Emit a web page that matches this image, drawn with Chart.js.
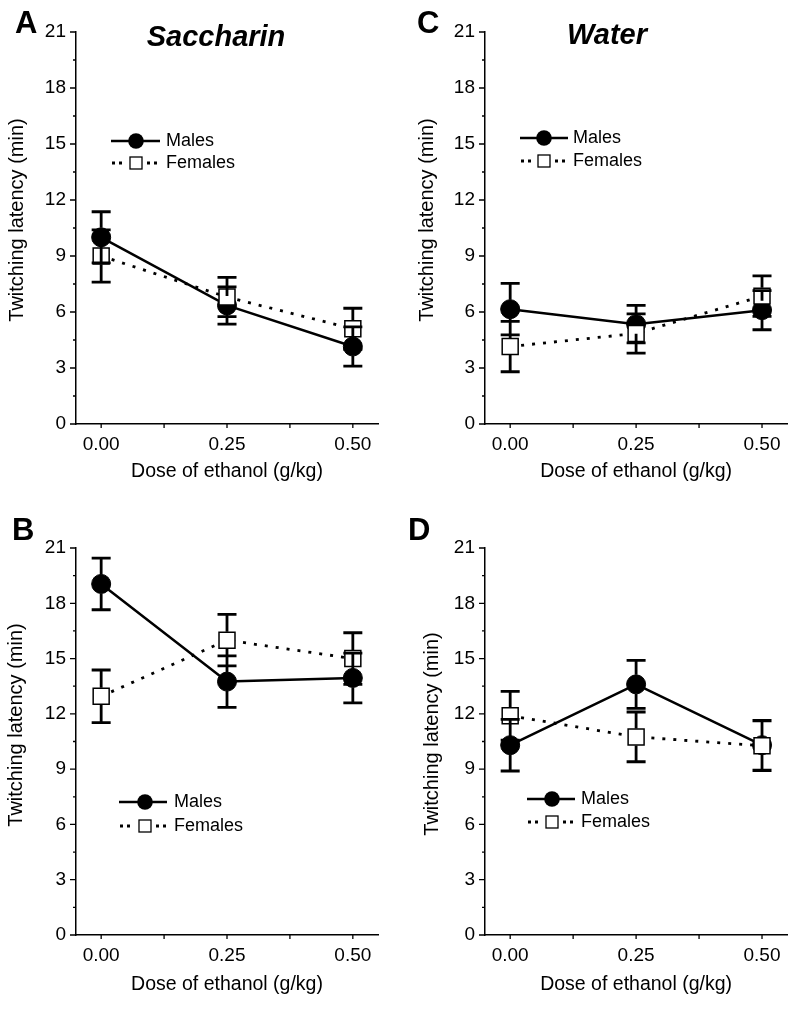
<!DOCTYPE html>
<html lang="en">
<head>
<meta charset="UTF-8" />
<title>Twitching latency by dose of ethanol</title>
<script src="https://cdn.jsdelivr.net/npm/chart.js"></script>
<style>
  body { margin: 0; background: #fff; }
  #wrap { position: relative; width: 800px; height: 1009px; }
  canvas { position: absolute; }
</style>
</head>
<body>
<div id="wrap">
  <canvas id="panelA" width="400" height="495" style="left:0;top:0;width:400px;height:495px"></canvas>
  <canvas id="panelC" width="400" height="495" style="left:400px;top:0;width:400px;height:495px"></canvas>
  <canvas id="panelB" width="400" height="514" style="left:0;top:495px;width:400px;height:514px"></canvas>
  <canvas id="panelD" width="400" height="514" style="left:400px;top:495px;width:400px;height:514px"></canvas>
</div>
<script>
// doses (g/kg) and axis ticks
const doses = [0, 0.25, 0.5];
const xTicks = [0, 0.125, 0.25, 0.375, 0.5];
const yTicks = [0, 1.5, 3, 4.5, 6, 7.5, 9, 10.5, 12, 13.5, 15, 16.5, 18, 19.5, 21];

// A: saccharin, top
const saccTopMales = [10.0, 6.35, 4.15];
const saccTopMalesErr = [1.37, 1.0, 1.05];
const saccTopFemales = [9.0, 6.8, 5.1];
const saccTopFemalesErr = [1.4, 1.05, 1.1];

// C: water, top
const waterTopMales = [6.15, 5.35, 6.1];
const waterTopMalesErr = [1.38, 1.0, 1.05];
const waterTopFemales = [4.15, 4.85, 6.85];
const waterTopFemalesErr = [1.35, 1.05, 1.08];

// B: saccharin, bottom
const saccBotMales = [19.05, 13.75, 13.95];
const saccBotMalesErr = [1.4, 1.4, 1.35];
const saccBotFemales = [12.95, 16.0, 15.0];
const saccBotFemalesErr = [1.43, 1.4, 1.4];

// D: water, bottom
const waterBotMales = [10.3, 13.6, 10.3];
const waterBotMalesErr = [1.4, 1.3, 1.35];
const waterBotFemales = [11.9, 10.75, 10.27];
const waterBotFemalesErr = [1.32, 1.35, 1.35];

const family = "'Liberation Sans', Arial, Helvetica, sans-serif";
Chart.defaults.font.family = family;
Chart.defaults.color = '#000';

// error bars on top of all markers, but stopping at their own marker's edge
const errorBars = {
  id: 'errorBars',
  afterDatasetsDraw(chart) {
    const y = chart.scales.y;
    const ctx = chart.ctx;
    ctx.save();
    ctx.strokeStyle = '#000';
    ctx.lineWidth = 2.8;
    ctx.beginPath();
    chart.data.datasets.forEach((ds, di) => {
      const meta = chart.getDatasetMeta(di);
      const half = ds.symbolHalf;
      meta.data.forEach((pt, i) => {
        const v = ds.data[i].y, e = ds.errors[i];
        const top = y.getPixelForValue(v + e);
        const bot = y.getPixelForValue(v - e);
        if (pt.y - half > top) { ctx.moveTo(pt.x, top); ctx.lineTo(pt.x, pt.y - half); }
        if (pt.y + half < bot) { ctx.moveTo(pt.x, pt.y + half); ctx.lineTo(pt.x, bot); }
        ctx.moveTo(pt.x - 9.5, top); ctx.lineTo(pt.x + 9.5, top);
        ctx.moveTo(pt.x - 9.5, bot); ctx.lineTo(pt.x + 9.5, bot);
      });
    });
    ctx.stroke();
    ctx.restore();
  }
};

// outward tick marks, major and minor
const axisTicks = {
  id: 'axisTicks',
  afterDraw(chart) {
    const { ctx, chartArea, scales: { x, y } } = chart;
    ctx.save();
    ctx.strokeStyle = '#000';
    ctx.lineWidth = 1.3;
    ctx.beginPath();
    yTicks.forEach(v => {
      const py = y.getPixelForValue(v);
      const len = v % 3 === 0 ? 6 : 3;
      ctx.moveTo(chartArea.left, py); ctx.lineTo(chartArea.left - len, py);
    });
    xTicks.forEach(v => {
      const px = x.getPixelForValue(v);
      ctx.moveTo(px, chartArea.bottom); ctx.lineTo(px, chartArea.bottom + 4);
    });
    ctx.stroke();
    ctx.restore();
  }
};

// in-plot legend, panel letter, title and y axis title
const panelDecor = {
  id: 'panelDecor',
  afterDraw(chart, args, o) {
    const ctx = chart.ctx;
    ctx.save();
    ctx.fillStyle = '#000';
    ctx.textBaseline = 'alphabetic';
    ctx.font = 'bold 31px ' + family;
    ctx.textAlign = 'left';
    ctx.fillText(o.letter, o.letterX, o.letterY);
    if (o.title) {
      ctx.font = 'italic bold 29px ' + family;
      ctx.textAlign = 'center';
      ctx.fillText(o.title, o.titleX, o.titleY);
    }
    // y axis title
    ctx.save();
    ctx.translate(o.yTitleX, o.yTitleY);
    ctx.rotate(-Math.PI / 2);
    ctx.font = '20px ' + family;
    ctx.textAlign = 'center';
    ctx.textBaseline = 'middle';
    ctx.fillText('Twitching latency (min)', 0, 0);
    ctx.restore();
    // legend: males
    const L = o.legend;
    ctx.strokeStyle = '#000';
    ctx.lineWidth = 2.5;
    ctx.beginPath();
    ctx.moveTo(L.x0, L.y1); ctx.lineTo(L.x1, L.y1);
    ctx.stroke();
    ctx.beginPath();
    ctx.arc(L.cx, L.y1, 7.8, 0, Math.PI * 2);
    ctx.fill();
    // legend: females
    [L.x0 + 1, L.x0 + 8, L.cx + 11, L.cx + 18].forEach(dx => {
      ctx.fillRect(dx, L.y2 - 1.5, 3, 3);
    });
    ctx.lineWidth = 1.3;
    ctx.fillStyle = '#fff';
    ctx.fillRect(L.cx - 6, L.y2 - 6, 12, 12);
    ctx.strokeRect(L.cx - 6, L.y2 - 6, 12, 12);
    ctx.fillStyle = '#000';
    ctx.font = '18px ' + family;
    ctx.textAlign = 'left';
    ctx.textBaseline = 'middle';
    ctx.fillText('Males', L.tx, L.y1);
    ctx.fillText('Females', L.tx, L.y2);
    ctx.restore();
  }
};

function pts(vals) {
  return doses.map((d, i) => ({ x: d, y: vals[i] }));
}

function makePanel(id, p, males, malesErr, females, femalesErr) {
  return new Chart(document.getElementById(id), {
    type: 'line',
    data: {
      datasets: [
        {
          label: 'Males', data: pts(males), errors: malesErr, symbolHalf: 9.5, order: 1,
          borderColor: '#000', borderWidth: 2.5, tension: 0, fill: false,
          pointStyle: 'circle', pointRadius: 9.5,
          pointBackgroundColor: '#000', pointBorderColor: '#000', pointBorderWidth: 1
        },
        {
          label: 'Females', data: pts(females), errors: femalesErr, symbolHalf: 8.5, order: 0,
          borderColor: '#000', borderWidth: 2.8, borderDash: [3, 8], tension: 0, fill: false,
          pointStyle: 'rect', pointRadius: 11.3,
          pointBackgroundColor: '#fff', pointBorderColor: '#000', pointBorderWidth: 1.5
        }
      ]
    },
    options: {
      responsive: false,
      animation: false,
      events: [],
      layout: { padding: { left: 0, top: p.top, right: p.right, bottom: 0 } },
      plugins: {
        legend: { display: false },
        tooltip: { enabled: false },
        panelDecor: p.decor
      },
      scales: {
        x: {
          type: 'linear', min: -0.05, max: 0.55,
          afterBuildTicks: s => { s.ticks = xTicks.map(v => ({ value: v })); },
          afterFit: s => { s.height = p.xH; },
          grid: { display: false },
          border: { display: true, color: '#000', width: 1.5 },
          ticks: {
            color: '#000', font: { size: 19 }, padding: 1, maxRotation: 0, autoSkip: false,
            callback: v => (v % 0.25 === 0 ? v.toFixed(2) : '')
          },
          title: {
            display: true, text: 'Dose of ethanol (g/kg)', color: '#000',
            font: { size: 19.5 }, padding: { top: 0, bottom: p.xTitlePad }
          }
        },
        y: {
          type: 'linear', min: 0, max: 21,
          afterBuildTicks: s => { s.ticks = yTicks.map(v => ({ value: v })); },
          afterFit: s => { s.width = p.yW; },
          grid: { display: false },
          border: { display: true, color: '#000', width: 1.5 },
          ticks: {
            color: '#000', font: { size: 19 }, padding: 2, autoSkip: false,
            callback: v => (v % 3 === 0 ? String(v) : '')
          },
          title: { display: false }
        }
      }
    },
    plugins: [errorBars, axisTicks, panelDecor]
  });
}

makePanel('panelA', {
  top: 32, right: 22, yW: 76, xH: 71, xTitlePad: 11.6,
  decor: { letter: 'A', letterX: 15, letterY: 33, title: 'Saccharin', titleX: 216, titleY: 46,
    yTitleX: 17, yTitleY: 220,
    legend: { x0: 111, x1: 160, cx: 136, y1: 141, y2: 163, tx: 166 } }
}, saccTopMales, saccTopMalesErr, saccTopFemales, saccTopFemalesErr);

makePanel('panelC', {
  top: 32, right: 12, yW: 85, xH: 71, xTitlePad: 11.6,
  decor: { letter: 'C', letterX: 17, letterY: 33, title: 'Water', titleX: 207, titleY: 44,
    yTitleX: 27, yTitleY: 220,
    legend: { x0: 120, x1: 168, cx: 144, y1: 138, y2: 161, tx: 173 } }
}, waterTopMales, waterTopMalesErr, waterTopFemales, waterTopFemalesErr);

makePanel('panelB', {
  top: 53, right: 22, yW: 76, xH: 74, xTitlePad: 12.6,
  decor: { letter: 'B', letterX: 12, letterY: 45, title: '',
    yTitleX: 16, yTitleY: 230,
    legend: { x0: 119, x1: 167, cx: 145, y1: 307, y2: 331, tx: 174 } }
}, saccBotMales, saccBotMalesErr, saccBotFemales, saccBotFemalesErr);

makePanel('panelD', {
  top: 53, right: 12, yW: 85, xH: 74, xTitlePad: 12.6,
  decor: { letter: 'D', letterX: 8, letterY: 45, title: '',
    yTitleX: 32, yTitleY: 239,
    legend: { x0: 127, x1: 175, cx: 152, y1: 304, y2: 327, tx: 181 } }
}, waterBotMales, waterBotMalesErr, waterBotFemales, waterBotFemalesErr);
</script>
</body>
</html>
